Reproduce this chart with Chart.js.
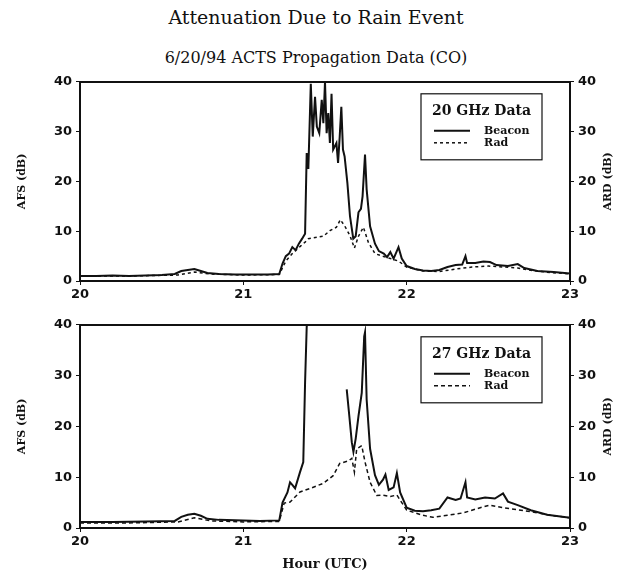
<!DOCTYPE html>
<html>
<head>
<meta charset="utf-8">
<script src="https://cdn.jsdelivr.net/npm/chart.js@4.4.1/dist/chart.umd.min.js"></script>
<style>
  body { margin: 0; background: #fff; width: 632px; height: 576px; position: relative; overflow: hidden; }
  .title { position: absolute; left: 0; width: 632px; text-align: center; font-family: "DejaVu Serif", serif; color: #111; }
  canvas { position: absolute; left: 0; }
</style>
</head>
<body>
<div class="title" style="top:6px; font-size:19px;">Attenuation Due to Rain Event</div>
<div class="title" style="top:48px; font-size:16px;">6/20/94 ACTS Propagation Data (CO)</div>
<canvas id="chartTop" width="632" height="230" style="top:70px"></canvas>
<canvas id="chartBottom" width="632" height="263" style="top:313px"></canvas>
<script>
// tick labels
const hourTicks = [20, 21, 22, 23];
const dbTicks = [0, 10, 20, 30, 40];

// 20 GHz - beacon
const hours20Beacon = [20.00, 20.10, 20.20, 20.30, 20.40, 20.50, 20.58, 20.62, 20.66, 20.70, 20.74, 20.78, 20.85, 20.95, 21.05, 21.15, 21.22, 21.24, 21.26, 21.28, 21.30, 21.32, 21.34, 21.36, 21.378, 21.388, 21.398, 21.413, 21.425, 21.439, 21.45, 21.465, 21.48, 21.49, 21.50, 21.51, 21.52, 21.53, 21.54, 21.55, 21.57, 21.58, 21.59, 21.60, 21.61, 21.62, 21.637, 21.653, 21.673, 21.688, 21.705, 21.72, 21.73, 21.745, 21.755, 21.776, 21.806, 21.83, 21.86, 21.88, 21.90, 21.92, 21.95, 21.97, 22.00, 22.05, 22.10, 22.15, 22.20, 22.25, 22.30, 22.34, 22.36, 22.37, 22.42, 22.47, 22.51, 22.55, 22.62, 22.68, 22.72, 22.80, 22.90, 23.00];
const beacon20 = [1.0, 1.0, 1.1, 1.0, 1.1, 1.2, 1.4, 2.0, 2.2, 2.4, 2.0, 1.6, 1.4, 1.3, 1.3, 1.3, 1.4, 3.5, 5.0, 5.5, 6.8, 6.2, 7.5, 8.5, 9.5, 25.7, 22.5, 39.6, 29, 37, 31, 29.7, 36.4, 31.7, 40, 29.7, 33.7, 27.7, 37.6, 26.4, 27.7, 23.7, 29, 35, 26.4, 25, 19.7, 13, 8.5, 9, 13.8, 14.5, 17, 25.4, 18.4, 11, 7.5, 6.0, 5.5, 4.8, 5.8, 4.5, 6.8, 4.5, 3.0, 2.4, 2.1, 2.0, 2.2, 2.8, 3.2, 3.3, 5.0, 3.6, 3.6, 3.9, 3.8, 3.2, 3.0, 3.4, 2.6, 2.0, 1.8, 1.5];

// 20 GHz - radiometer
const hours20Rad = [20.0, 20.3, 20.6, 20.7, 20.8, 21.0, 21.22, 21.26, 21.30, 21.35, 21.378, 21.398, 21.45, 21.49, 21.53, 21.57, 21.594, 21.62, 21.653, 21.68, 21.705, 21.735, 21.765, 21.806, 21.85, 21.9, 21.95, 22.0, 22.1, 22.2, 22.3, 22.4, 22.5, 22.6, 22.68, 22.75, 22.85, 23.0];
const rad20 = [1.0, 1.0, 1.2, 1.8, 1.4, 1.2, 1.3, 4.0, 5.5, 7.0, 7.8, 8.5, 8.8, 9.0, 10.1, 10.8, 12.3, 11.1, 9.1, 6.6, 9, 10.8, 7.8, 5.5, 5.0, 4.5, 4.0, 2.8, 2.0, 1.9, 2.4, 2.8, 3.0, 2.8, 2.6, 2.2, 1.8, 1.4];

// 27 GHz - beacon (gap while signal was lost)
const hours27Beacon = [20.0, 20.2, 20.4, 20.58, 20.62, 20.66, 20.70, 20.74, 20.78, 20.85, 21.0, 21.1, 21.22, 21.24, 21.27, 21.286, 21.30, 21.317, 21.347, 21.367, 21.378, 21.388, 21.395, 21.40, 21.633, 21.649, 21.664, 21.674, 21.688, 21.705, 21.725, 21.74, 21.745, 21.755, 21.776, 21.806, 21.83, 21.855, 21.87, 21.89, 21.92, 21.94, 21.96, 22.0, 22.05, 22.1, 22.15, 22.2, 22.25, 22.3, 22.33, 22.36, 22.37, 22.42, 22.48, 22.54, 22.59, 22.62, 22.68, 22.76, 22.86, 23.0];
const beacon27 = [1.2, 1.2, 1.3, 1.4, 2.2, 2.6, 2.8, 2.4, 1.8, 1.6, 1.5, 1.4, 1.5, 5.0, 7.0, 9, 8.5, 7.8, 11, 13, 28.6, 39.6, 42, null, 27.3, 22, 16.9, 15, 17.6, 22, 26.6, 37.7, 38.5, 25.3, 15.6, 10.4, 8.5, 9.5, 10.5, 7.5, 8.0, 10.8, 7.0, 4.0, 3.4, 3.3, 3.5, 3.8, 6.0, 5.5, 5.8, 9.0, 6.0, 5.6, 6.0, 5.8, 6.8, 5.2, 4.5, 3.5, 2.6, 2.0];

// 27 GHz - radiometer
const hours27Rad = [20.0, 20.3, 20.6, 20.7, 20.8, 21.0, 21.22, 21.25, 21.286, 21.347, 21.41, 21.49, 21.55, 21.59, 21.643, 21.664, 21.68, 21.694, 21.725, 21.745, 21.776, 21.817, 21.85, 21.9, 21.94, 22.0, 22.1, 22.16, 22.25, 22.35, 22.45, 22.51, 22.59, 22.68, 22.76, 22.88, 23.0];
const rad27 = [1.0, 1.0, 1.2, 2.0, 1.4, 1.2, 1.3, 4.9, 5.1, 7.1, 7.8, 8.8, 10.3, 12.7, 13.2, 13.7, 11, 15.6, 16.2, 13, 9, 6.4, 6.5, 6.2, 6.5, 3.5, 2.5, 2.1, 2.5, 3.0, 4.0, 4.5, 4.0, 3.6, 3.2, 2.5, 2.0];

function toPoints(xs, ys) {
    return xs.map((x, i) => ({ x: x, y: ys[i] }));
}

const tickFont = { family: 'DejaVu Sans', size: 13, weight: 'bold' };
const axisTitleFont = { family: 'DejaVu Serif', size: 11, weight: 'bold' };

// legend box inside the plot, drawn from the datasets' own styles
const boxLegend = {
    id: 'boxLegend',
    afterDraw(chart, args, opts) {
        const c = chart.ctx;
        const a = chart.chartArea;
        const x = a.right - opts.right - opts.width;
        const y = a.top + opts.top;
        c.save();
        c.strokeStyle = '#111';
        c.lineWidth = 1.2;
        c.fillStyle = '#fff';
        c.fillRect(x, y, opts.width, opts.height);
        c.strokeRect(x, y, opts.width, opts.height);
        c.fillStyle = '#111';
        c.font = 'bold 14px "DejaVu Serif"';
        c.textAlign = 'center';
        c.textBaseline = 'middle';
        c.fillText(opts.title, x + opts.width / 2, y + 18);
        c.font = 'bold 11px "DejaVu Serif"';
        c.textAlign = 'left';
        chart.data.datasets.forEach((ds, i) => {
            const ly = y + 37 + i * 12;
            c.beginPath();
            c.setLineDash(ds.borderDash || []);
            c.lineWidth = ds.borderWidth;
            c.strokeStyle = ds.borderColor;
            c.moveTo(x + 13, ly);
            c.lineTo(x + 49, ly);
            c.stroke();
            c.setLineDash([]);
            c.fillText(ds.label, x + 63, ly);
        });
        c.restore();
    }
};

// right axis title reads bottom-to-top, like the left one
const rightTitle = {
    id: 'rightTitle',
    afterDraw(chart, args, opts) {
        const c = chart.ctx;
        const a = chart.chartArea;
        c.save();
        c.translate(opts.x, (a.top + a.bottom) / 2);
        c.rotate(-Math.PI / 2);
        c.fillStyle = '#111';
        c.font = 'bold 11px "DejaVu Serif"';
        c.textAlign = 'center';
        c.textBaseline = 'middle';
        c.fillText(opts.text, 0, 0);
        c.restore();
    }
};

function makeChart(id, title, beaconPts, radPts, radDash, xHeight, showXTitle) {
    return new Chart(document.getElementById(id), {
        type: 'line',
        data: {
            datasets: [{
                label: 'Beacon',
                data: beaconPts,
                borderColor: '#111',
                borderWidth: 2,
                pointRadius: 0,
                tension: 0,
                spanGaps: false
            }, {
                label: 'Rad',
                data: radPts,
                borderColor: '#111',
                borderWidth: 1.5,
                borderDash: radDash,
                pointRadius: 0,
                tension: 0
            }]
        },
        options: {
            responsive: false,
            animation: false,
            layout: { padding: { top: 10, left: 0, right: 0, bottom: 0 } },
            plugins: {
                legend: { display: false },
                tooltip: { enabled: false },
                boxLegend: { title: title, width: 121, height: 66, right: 28, top: 12 },
                rightTitle: { text: 'ARD (dB)', x: 608 }
            },
            scales: {
                x: {
                    type: 'linear',
                    min: 20,
                    max: 23,
                    afterBuildTicks: axis => { axis.ticks = hourTicks.map(v => ({ value: v })); },
                    afterFit: axis => { axis.height = xHeight; },
                    ticks: { font: tickFont, color: '#111', padding: 2 },
                    grid: { drawOnChartArea: false, tickLength: 4, color: '#111' },
                    border: { color: '#111', width: 2 },
                    title: {
                        display: showXTitle,
                        text: 'Hour (UTC)',
                        font: { family: 'DejaVu Serif', size: 13, weight: 'bold' },
                        color: '#111',
                        padding: { top: 4 }
                    }
                },
                xTop: {
                    type: 'linear',
                    position: 'top',
                    min: 20,
                    max: 23,
                    afterFit: axis => { axis.height = 0; },
                    ticks: { display: false },
                    grid: { display: false },
                    border: { color: '#111', width: 2 }
                },
                y: {
                    min: 0,
                    max: 40,
                    afterBuildTicks: axis => { axis.ticks = dbTicks.map(v => ({ value: v })); },
                    afterFit: axis => { axis.width = 80; },
                    ticks: { font: tickFont, color: '#111', padding: 4 },
                    grid: { drawOnChartArea: false, tickLength: 4, color: '#111' },
                    border: { color: '#111', width: 2 },
                    title: { display: true, text: 'AFS (dB)', font: axisTitleFont, color: '#111', padding: { top: 16, bottom: 0 } }
                },
                y2: {
                    position: 'right',
                    min: 0,
                    max: 40,
                    afterBuildTicks: axis => { axis.ticks = dbTicks.map(v => ({ value: v })); },
                    afterFit: axis => { axis.width = 62; },
                    ticks: { font: tickFont, color: '#111', padding: 4 },
                    grid: { drawOnChartArea: false, tickLength: 4, color: '#111' },
                    border: { color: '#111', width: 2 }
                }
            }
        },
        plugins: [boxLegend, rightTitle]
    });
}

makeChart('chartTop', '20 GHz Data', toPoints(hours20Beacon, beacon20), toPoints(hours20Rad, rad20), [3, 3], 19, false);
makeChart('chartBottom', '27 GHz Data', toPoints(hours27Beacon, beacon27), toPoints(hours27Rad, rad27), [4, 3], 48, true);
</script>
</body>
</html>
